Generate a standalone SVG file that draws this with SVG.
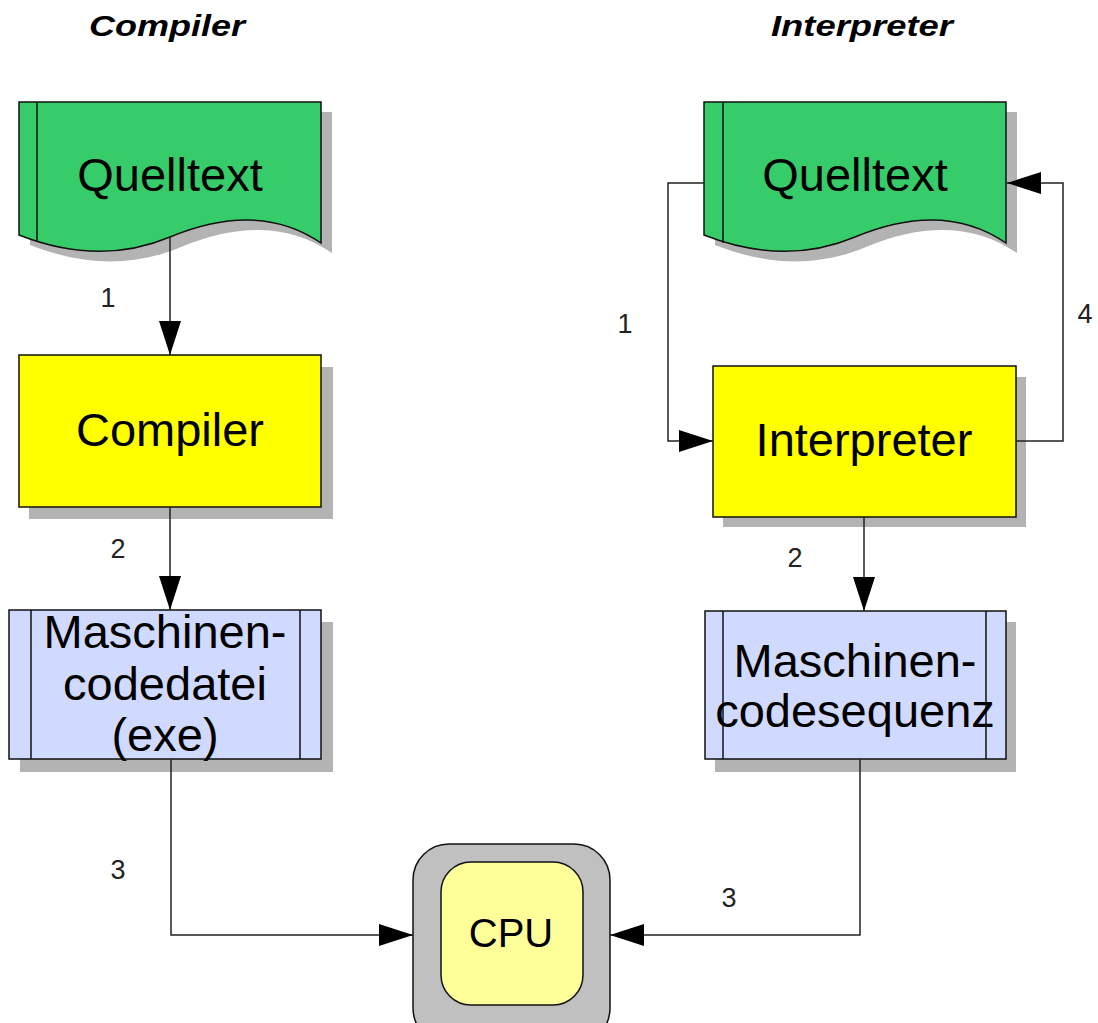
<svg xmlns="http://www.w3.org/2000/svg" width="1098" height="1023" viewBox="0 0 1098 1023">
<style>
.title{font-family:"Liberation Sans",Arial,sans-serif;font-weight:bold;font-style:italic;font-size:29px;fill:#000}
.lbl{font-family:"Liberation Sans",Arial,sans-serif;font-size:47px;fill:#000;text-anchor:middle}
.num{font-family:"Liberation Sans",Arial,sans-serif;font-size:27px;fill:#222;text-anchor:middle}
.shadow{fill:#b3b3b3;stroke:none}
.ln{fill:none;stroke:#111;stroke-width:1.5}
.edge{fill:none;stroke:#222;stroke-width:1.5}
.doc{fill:#36cc6a;stroke:#111;stroke-width:1.5}
.proc{fill:#ffff00;stroke:#111;stroke-width:1.5}
.mc{fill:#d0daff;stroke:#111;stroke-width:1.5}
</style>
<defs>
<marker id="ah" markerUnits="userSpaceOnUse" markerWidth="36" markerHeight="24" refX="34" refY="11" orient="auto">
<path d="M0,0 L34,11 L0,22 Z" fill="#000"/>
</marker>
<path id="docshape" d="M19 102 H321 V243 C280 215 230 212 170 237 C120 258 70 255 19 235 Z"/>
</defs>

<text class="title" x="89" y="36" textLength="156" lengthAdjust="spacingAndGlyphs">Compiler</text>
<text class="title" x="771" y="36" textLength="182" lengthAdjust="spacingAndGlyphs">Interpreter</text>

<g id="quelltext-c">
<use href="#docshape" class="shadow" transform="translate(11,10)"/>
<use href="#docshape" class="doc"/>
<line class="ln" x1="37" y1="102" x2="37" y2="242"/>
<text class="lbl" x="170" y="191">Quelltext</text>
</g>

<g id="quelltext-i">
<use href="#docshape" class="shadow" transform="translate(696,10)"/>
<use href="#docshape" class="doc" transform="translate(685,0)"/>
<line class="ln" x1="723" y1="102" x2="723" y2="243"/>
<text class="lbl" x="855" y="191">Quelltext</text>
</g>

<g id="compiler">
<rect class="shadow" x="29" y="367" width="304" height="152"/>
<rect class="proc" x="19" y="355" width="302" height="152"/>
<text class="lbl" x="170" y="446">Compiler</text>
</g>

<g id="interpreter">
<rect class="shadow" x="723" y="377" width="303" height="150"/>
<rect class="proc" x="713" y="366" width="303" height="151"/>
<text class="lbl" x="864" y="456">Interpreter</text>
</g>

<g id="maschinencodedatei">
<rect class="shadow" x="20" y="622" width="313" height="150"/>
<rect class="mc" x="9" y="610" width="312" height="149"/>
<line class="ln" x1="31" y1="610" x2="31" y2="759"/>
<line class="ln" x1="300" y1="610" x2="300" y2="759"/>
<text class="lbl" x="165" y="648">Maschinen-</text>
<text class="lbl" x="165" y="700">codedatei</text>
<text class="lbl" x="165" y="751">(exe)</text>
</g>

<g id="maschinencodesequenz">
<rect class="shadow" x="715" y="622" width="301" height="150"/>
<rect class="mc" x="705" y="611" width="301" height="148"/>
<line class="ln" x1="723" y1="611" x2="723" y2="759"/>
<line class="ln" x1="986" y1="611" x2="986" y2="759"/>
<text class="lbl" x="855" y="677">Maschinen-</text>
<text class="lbl" x="855" y="727">codesequenz</text>
</g>

<g id="cpu">
<rect x="413" y="844" width="197" height="200" rx="36" ry="36" fill="#c0c0c0" stroke="#111" stroke-width="1.5"/>
<rect x="441" y="862" width="142" height="143" rx="30" ry="30" fill="#ffff99" stroke="#111" stroke-width="1.5"/>
<text class="lbl" x="511" y="947" style="font-size:40px">CPU</text>
</g>

<g id="connectors">
<path class="edge" d="M170 237 V355" marker-end="url(#ah)"/>
<path class="edge" d="M170 507 V610" marker-end="url(#ah)"/>
<path class="edge" d="M171 759 V935 H413" marker-end="url(#ah)"/>
<path class="edge" d="M704 183 H668 V441 H713" marker-end="url(#ah)"/>
<path class="edge" d="M1016 441 H1063 V183 H1007" marker-end="url(#ah)"/>
<path class="edge" d="M864 517 V611" marker-end="url(#ah)"/>
<path class="edge" d="M860 759 V935 H610" marker-end="url(#ah)"/>
<text class="num" x="108" y="307">1</text>
<text class="num" x="118" y="558">2</text>
<text class="num" x="118" y="879">3</text>
<text class="num" x="625" y="333">1</text>
<text class="num" x="1085" y="323">4</text>
<text class="num" x="795" y="567">2</text>
<text class="num" x="729" y="907">3</text>
</g>
</svg>
